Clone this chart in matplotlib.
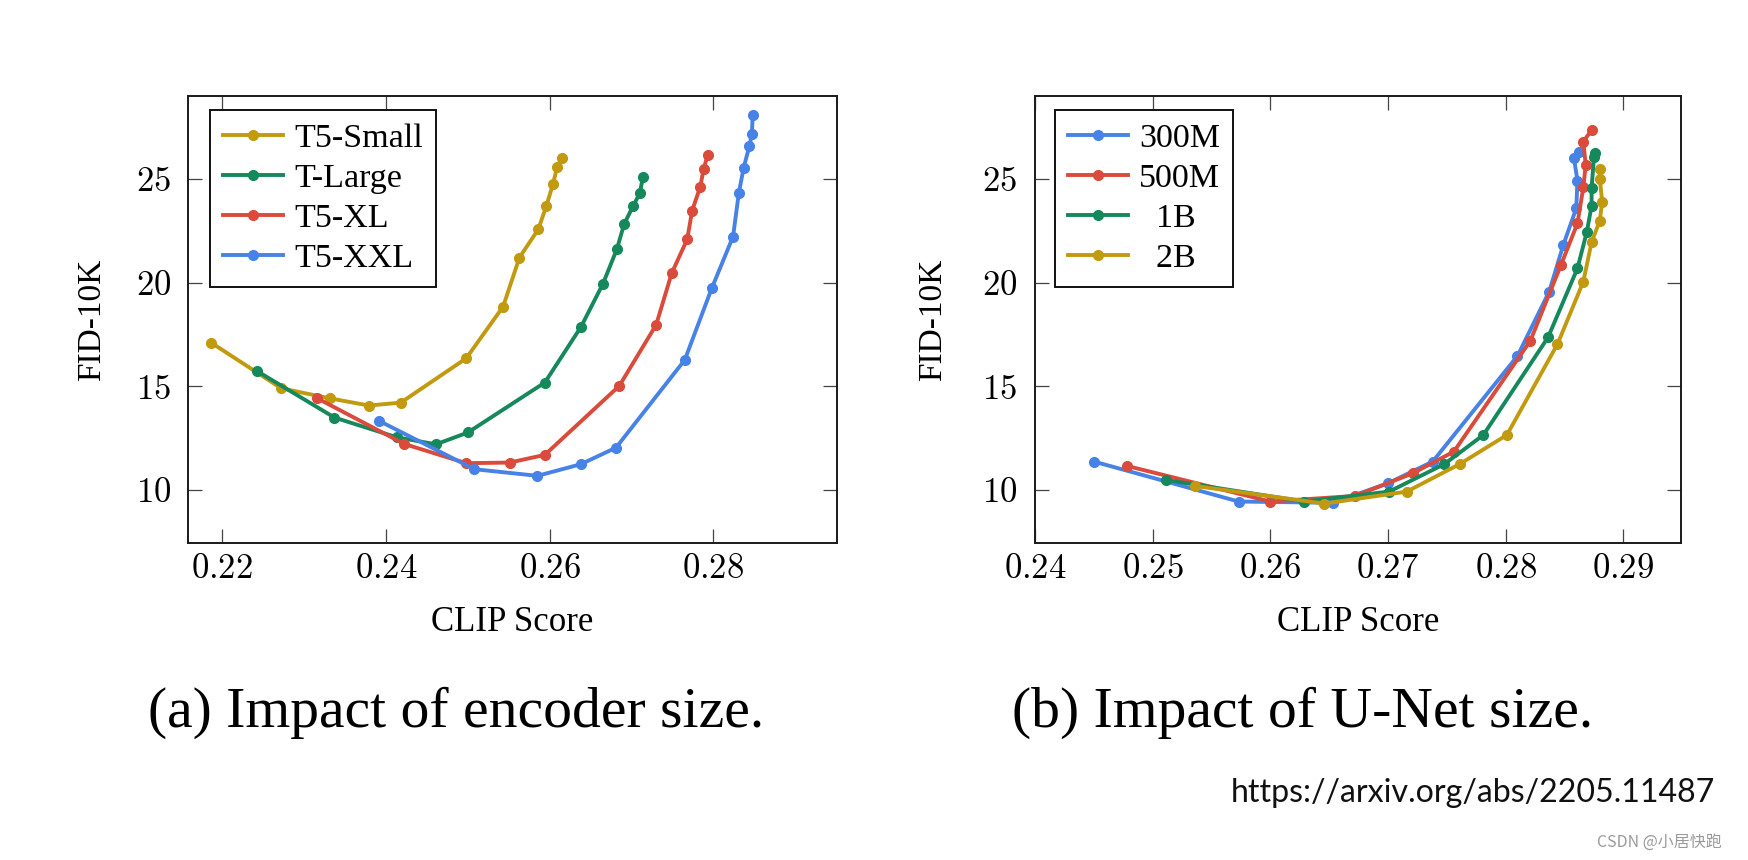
import matplotlib
matplotlib.use('Agg')
import matplotlib.pyplot as plt
from matplotlib.ticker import FixedLocator, FuncFormatter

# ── Data ──────────────────────────────────────────────────────────────────────
# (a) Impact of encoder size
small_clip = [0.2186, 0.2272, 0.2331, 0.2379, 0.2418, 0.2498, 0.2543, 0.2563, 0.2586, 0.2596, 0.2604, 0.2609, 0.2615]
small_fid = [17.11, 14.90, 14.42, 14.07, 14.21, 16.35, 18.84, 21.21, 22.57, 23.71, 24.76, 25.56, 26.03]

large_clip = [0.2242, 0.2337, 0.2413, 0.2461, 0.2500, 0.2594, 0.2638, 0.2665, 0.2682, 0.2691, 0.2702, 0.2710, 0.2714]
large_fid = [15.74, 13.49, 12.54, 12.20, 12.77, 15.18, 17.85, 19.94, 21.61, 22.83, 23.70, 24.31, 25.11]

xl_clip = [0.2316, 0.2422, 0.2498, 0.2551, 0.2594, 0.2685, 0.2730, 0.2749, 0.2768, 0.2774, 0.2784, 0.2788, 0.2793]
xl_fid = [14.42, 12.22, 11.29, 11.32, 11.69, 15.02, 17.96, 20.45, 22.09, 23.47, 24.63, 25.47, 26.16]

xxl_clip = [0.2391, 0.2508, 0.2585, 0.2638, 0.2681, 0.2765, 0.2798, 0.2824, 0.2831, 0.2837, 0.2844, 0.2847, 0.2848]
xxl_fid = [13.34, 11.00, 10.68, 11.24, 12.04, 16.27, 19.73, 22.22, 24.31, 25.55, 26.59, 27.17, 28.09]

# (b) Impact of U-Net size
m300_clip = [0.2450, 0.2573, 0.2653, 0.2700, 0.2738, 0.2810, 0.2837, 0.2849, 0.2860, 0.2861, 0.2858, 0.2862]
m300_fid = [11.37, 9.44, 9.38, 10.32, 11.37, 16.46, 19.57, 21.82, 23.59, 24.92, 26.00, 26.30]

m500_clip = [0.2478, 0.2600, 0.2672, 0.2721, 0.2756, 0.2821, 0.2847, 0.2861, 0.2866, 0.2868, 0.2866, 0.2873]
m500_fid = [11.16, 9.44, 9.71, 10.80, 11.85, 17.20, 20.85, 22.86, 24.60, 25.68, 26.80, 27.36]

b1_clip = [0.2511, 0.2629, 0.2701, 0.2748, 0.2781, 0.2836, 0.2861, 0.2869, 0.2873, 0.2873, 0.2875, 0.2876]
b1_fid = [10.48, 9.44, 9.92, 11.25, 12.65, 17.36, 20.69, 22.46, 23.70, 24.55, 26.05, 26.27]

b2_clip = [0.2536, 0.2646, 0.2716, 0.2761, 0.2801, 0.2844, 0.2866, 0.2873, 0.2880, 0.2882, 0.2880, 0.2880]
b2_fid = [10.19, 9.34, 9.92, 11.25, 12.65, 17.03, 20.05, 21.95, 22.99, 23.91, 24.98, 25.48]

enc_labels = ['T5-Small', 'T-Large', 'T5-XL', 'T5-XXL']
unet_labels = ['300M', '500M', '  1B', '  2B']

left_xticks = [0.22, 0.24, 0.26, 0.28]
right_xticks = [0.24, 0.25, 0.26, 0.27, 0.28, 0.29]
yticks = [10, 15, 20, 25]

GOLD = '#C29A10'
GREEN = '#15885C'
RED = '#DA4B3B'
BLUE = '#4783E6'

# ── Style ─────────────────────────────────────────────────────────────────────
plt.rcParams['font.family'] = ['Liberation Serif', 'DejaVu Serif']
plt.rcParams['mathtext.fontset'] = 'cm'

fig = plt.figure(figsize=(17.48, 8.6), dpi=100)
fig.patch.set_facecolor('white')

ax_a = fig.add_axes([0.10755, 0.36860, 0.37128, 0.51977])
ax_b = fig.add_axes([0.59211, 0.36860, 0.36957, 0.51977])


def style_axes(ax, xticks, xlim, ytick_pad, ylabel_x):
    ax.set_xlim(*xlim)
    ax.set_ylim(7.44, 29.0)
    ax.xaxis.set_major_locator(FixedLocator(xticks))
    ax.yaxis.set_major_locator(FixedLocator(yticks))
    ax.xaxis.set_major_formatter(FuncFormatter(lambda v, p: f'${v:.2f}$'))
    ax.yaxis.set_major_formatter(FuncFormatter(lambda v, p: f'${v:.0f}$'))
    ax.tick_params(axis='both', direction='in', length=10, width=0.9,
                   color='#444444', top=True, right=True, labelsize=25)
    ax.tick_params(axis='x', pad=7)
    ax.tick_params(axis='y', pad=ytick_pad)
    for sp in ax.spines.values():
        sp.set_linewidth(1.4)
        sp.set_color('#1a1a1a')
    ax.set_xlabel('CLIP Score', fontsize=25)
    ax.xaxis.label.set_va('center')
    ax.xaxis.set_label_coords(0.5, -0.178)
    ax.set_ylabel('FID-10K', fontsize=24)
    ax.yaxis.label.set_va('center')
    ax.yaxis.set_label_coords(ylabel_x, 0.5)


def add_legend(ax, x0):
    leg = ax.legend(loc='upper left', bbox_to_anchor=(x0, 0.9687), borderaxespad=0,
                    fontsize=24.5, frameon=True, fancybox=False, framealpha=1,
                    edgecolor='#111111', handlelength=1.75, handletextpad=0.34,
                    borderpad=0.38, labelspacing=0.27)
    leg.get_frame().set_linewidth(1.4)


line_kw = dict(marker='o', markersize=7, linewidth=2.8)

# (a) encoder size
ax_a.plot(small_clip, small_fid, color=GOLD, label=enc_labels[0], **line_kw)
ax_a.plot(large_clip, large_fid, color=GREEN, label=enc_labels[1], **line_kw)
ax_a.plot(xl_clip, xl_fid, color=RED, label=enc_labels[2], **line_kw)
ax_a.plot(xxl_clip, xxl_fid, color=BLUE, label=enc_labels[3], **line_kw)
style_axes(ax_a, left_xticks, (0.2158, 0.2951), 12, -0.148)
add_legend(ax_a, 0.034)

# (b) U-Net size
ax_b.plot(m300_clip, m300_fid, color=BLUE, label=unet_labels[0], **line_kw)
ax_b.plot(m500_clip, m500_fid, color=RED, label=unet_labels[1], **line_kw)
ax_b.plot(b1_clip, b1_fid, color=GREEN, label=unet_labels[2], **line_kw)
ax_b.plot(b2_clip, b2_fid, color=GOLD, label=unet_labels[3], **line_kw)
style_axes(ax_b, right_xticks, (0.24, 0.2949), 13, -0.158)
add_legend(ax_b, 0.031)

# ── Captions and source ───────────────────────────────────────────────────────
fig.text(0.0847, 0.1547, '(a) Impact of encoder size.', fontsize=41.5,
         ha='left', va='baseline')
fig.text(0.5789, 0.1547, '(b) Impact of U-Net size.', fontsize=41.5,
         ha='left', va='baseline')

url = fig.text(0.7042, 0.0779, 'https://arxiv.org/abs/2205.11487', fontsize=22,
               family=['Lato', 'DejaVu Sans'], color='#111111', ha='left', va='center')
fig.canvas.draw()
url.set_fontsize(url.get_fontsize() * 483 / url.get_window_extent().width)

fig.text(0.9136, 0.0209, 'CSDN @小居快跑', fontsize=11.5, color='#9a9a9a',
         family=['Noto Sans CJK SC', 'DejaVu Sans'], ha='left', va='center')

fig.savefig('out.png', dpi=100, facecolor='white')
